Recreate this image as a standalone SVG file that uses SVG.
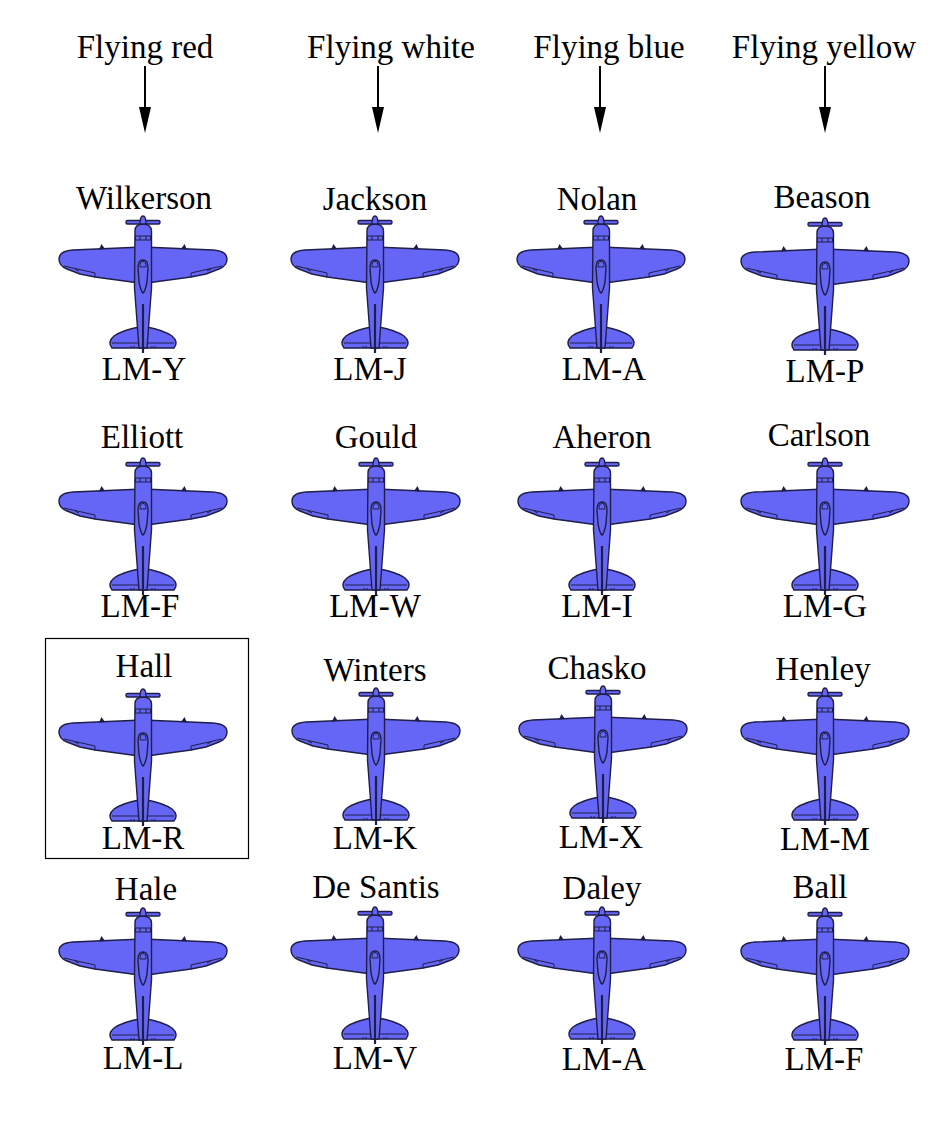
<svg xmlns="http://www.w3.org/2000/svg" xmlns:xlink="http://www.w3.org/1999/xlink" width="946" height="1134" viewBox="0 0 946 1134">
<style>
text{font-family:"Liberation Serif","Times New Roman",serif;font-size:33px;fill:#000;text-anchor:middle}
.body{fill:#6666f6;stroke:#1e1e48;stroke-width:1.4;stroke-linejoin:round}
.ln{fill:none;stroke:#1e1e48;stroke-width:1}
.arr{stroke:#000;stroke-width:2}
</style>
<defs>
<g id="plane">
<path class="body" d="M -4,111 Q -20,114 -29,120 Q -36,126 -31,132 L 31,132 Q 36,126 29,120 Q 20,114 4,111 Z"/>
<path class="ln" d="M -31,127 L 31,127"/>
<path class="ln" d="M -12,132 v-2 M -9,132 v-2 M 9,132 v-2 M 12,132 v-2"/>
<path class="body" d="M 0,31 L 70,34 Q 84,35 84,43 Q 84,50 76,53 L 63,58 L 48,61 L 0,67.5 L -48,61 L -63,58 L -76,53 Q -84,50 -84,43 Q -84,35 -70,34 Z"/>
<path class="ln" d="M -79,50 L -48,57 M 79,50 L 48,57 M -48,57 V 61.5 M 48,57 V 61.5 M -68,53 L -64,55 M 68,53 L 64,55"/>
<path d="M -44,33.5 L -41.5,28 L -38,33 Z M 44,33.5 L 41.5,28 L 38,33 Z" fill="#1e1e48"/>
<path class="body" d="M -8,15 Q -8,8 0,8 Q 8,8 8.5,15 L 8.5,72 L 4,132 L -4,132 L -8.5,72 Z"/>
<rect class="ln" x="-7.5" y="20" width="15" height="4"/>
<path class="ln" d="M -3,20 v4 M 3,20 v4"/>
<path class="body" d="M 0,44 Q 5,44 5,52 L 4,66 Q 2,76 0,77 Q -2,76 -4,66 L -5,52 Q -5,44 0,44 Z"/>
<path class="ln" d="M -3,51 Q -3,45.5 0,45.5 Q 3,45.5 3,51 Z"/>
<rect class="body" x="-17" y="4.5" width="34" height="3.5" rx="1.5"/>
<path class="body" d="M -3,8 Q -3,0 0,0 Q 3,0 3,8 Z"/>
<path d="M 0,88 V 137" stroke="#1e1e48" stroke-width="2.2"/>
</g>
</defs>
<rect width="946" height="1134" fill="#fff"/>
<g id="headers">
<text x="145" y="58">Flying red</text>
<text x="391" y="58">Flying white</text>
<text x="609" y="58">Flying blue</text>
<text x="824" y="58">Flying yellow</text>
</g>
<g id="connectors">
<line class="arr" x1="145" y1="66" x2="145" y2="110"/><polygon points="139,107 151,107 145,133"/>
<line class="arr" x1="378" y1="66" x2="378" y2="110"/><polygon points="372,107 384,107 378,133"/>
<line class="arr" x1="600" y1="66" x2="600" y2="110"/><polygon points="594,107 606,107 600,133"/>
<line class="arr" x1="825" y1="66" x2="825" y2="110"/><polygon points="819,107 831,107 825,133"/>
</g>
<g id="wilkerson"><text x="144" y="209">Wilkerson</text><use xlink:href="#plane" href="#plane" transform="translate(143,216)"/><text x="144" y="380">LM-Y</text></g>
<g id="jackson"><text x="375" y="210">Jackson</text><use xlink:href="#plane" href="#plane" transform="translate(375,216)"/><text x="370" y="380">LM-J</text></g>
<g id="nolan"><text x="597" y="210">Nolan</text><use xlink:href="#plane" href="#plane" transform="translate(601,216)"/><text x="604" y="380">LM-A</text></g>
<g id="beason"><text x="822" y="208">Beason</text><use xlink:href="#plane" href="#plane" transform="translate(825,218)"/><text x="825" y="382">LM-P</text></g>

<g id="elliott"><text x="142" y="448">Elliott</text><use xlink:href="#plane" href="#plane" transform="translate(143,458)"/><text x="140" y="617">LM-F</text></g>
<g id="gould"><text x="376" y="448">Gould</text><use xlink:href="#plane" href="#plane" transform="translate(376,458)"/><text x="375" y="617">LM-W</text></g>
<g id="aheron"><text x="602" y="448">Aheron</text><use xlink:href="#plane" href="#plane" transform="translate(602,458)"/><text x="597" y="617">LM-I</text></g>
<g id="carlson"><text x="819" y="446">Carlson</text><use xlink:href="#plane" href="#plane" transform="translate(825,458)"/><text x="825" y="617">LM-G</text></g>

<g id="hall"><rect x="45.5" y="638.5" width="203" height="220" fill="none" stroke="#000" stroke-width="1.2"/><text x="144" y="677">Hall</text><use xlink:href="#plane" href="#plane" transform="translate(143,689)"/><text x="143" y="849">LM-R</text></g>
<g id="winters"><text x="375" y="681">Winters</text><use xlink:href="#plane" href="#plane" transform="translate(376,688)"/><text x="375" y="849">LM-K</text></g>
<g id="chasko"><text x="597" y="679">Chasko</text><use xlink:href="#plane" href="#plane" transform="translate(603,686)"/><text x="601" y="848">LM-X</text></g>
<g id="henley"><text x="823" y="680">Henley</text><use xlink:href="#plane" href="#plane" transform="translate(825,688)"/><text x="825" y="850">LM-M</text></g>

<g id="hale"><text x="146" y="900">Hale</text><use xlink:href="#plane" href="#plane" transform="translate(143,908)"/><text x="143" y="1069">LM-L</text></g>
<g id="desantis"><text x="376" y="898">De Santis</text><use xlink:href="#plane" href="#plane" transform="translate(375,907)"/><text x="375" y="1069">LM-V</text></g>
<g id="daley"><text x="602" y="899">Daley</text><use xlink:href="#plane" href="#plane" transform="translate(602,907)"/><text x="604" y="1070">LM-A</text></g>
<g id="ball"><text x="820" y="898">Ball</text><use xlink:href="#plane" href="#plane" transform="translate(825,908)"/><text x="824" y="1070">LM-F</text></g>
</svg>
